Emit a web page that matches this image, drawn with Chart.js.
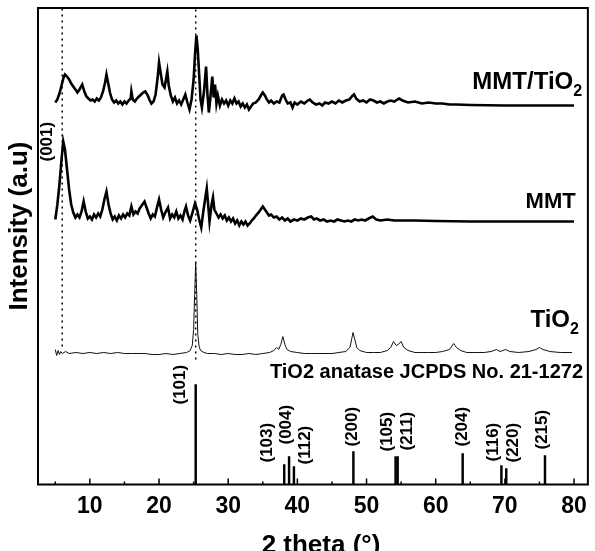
<!DOCTYPE html>
<html>
<head>
<meta charset="utf-8">
<script src="https://cdn.jsdelivr.net/npm/chart.js@4.4.0/dist/chart.umd.min.js"></script>
<style>
  html, body { margin: 0; padding: 0; background: #fff; }
  #wrap { width: 595px; height: 551px; }
</style>
</head>
<body>
<div id="wrap"><canvas id="xrdChart" width="595" height="551"></canvas></div>
<script>
// XRD patterns, stacked (intensity in a.u. incl. vertical offset of each trace)
var mmtTiO2Theta = [5.0,5.3,5.6,5.9,6.2,6.4,6.7,7.0,7.3,7.6,7.9,8.2,8.5,8.9,9.2,9.5,9.8,10.1,10.4,10.7,11.0,11.3,11.6,11.9,12.2,12.4,12.6,12.9,13.2,13.5,13.8,14.1,14.4,14.7,15.0,15.3,15.6,15.9,16.0,16.2,16.5,16.8,17.1,17.4,17.7,18.0,18.3,18.6,18.9,19.2,19.5,19.8,20.0,20.2,20.5,20.8,21.0,21.2,21.4,21.7,22.0,22.3,22.6,22.9,23.2,23.5,23.8,24.1,24.4,24.7,25.0,25.2,25.4,25.6,25.8,26.0,26.2,26.5,26.8,27.0,27.2,27.4,27.7,27.9,28.1,28.3,28.5,28.8,29.1,29.4,29.7,30.0,30.3,30.6,30.9,31.2,31.5,31.8,32.1,32.4,32.7,33.0,33.3,33.6,34.0,34.4,34.8,35.0,35.3,35.6,35.9,36.2,36.6,37.0,37.4,37.8,38.0,38.3,38.6,39.0,39.3,39.6,40.0,40.5,41.0,41.5,41.8,42.2,42.7,43.2,43.6,44.0,44.5,45.0,45.5,46.0,46.5,47.0,47.5,48.0,48.2,48.5,49.0,49.5,50.0,50.5,51.0,51.5,52.0,52.5,53.0,53.5,54.0,54.7,55.2,56.0,57.0,58.0,59.0,60.0,61.0,62.0,63.0,65.0,70.0,75.0,80.0];
var mmtTiO2Int = [382,385,391,399,407,410,408,405,401,398,395,392,395,400,393,388,386,384,385,383,386,384,387,393,402,410,403,392,385,382,384,381,383,380,383,381,384,386,393,385,383,386,388,390,392,393,390,385,381,383,390,407,422,413,400,397,405,413,399,389,383,387,381,384,380,385,390,382,375,385,405,430,449,435,410,385,377,393,418,390,372,385,408,387,400,381,389,379,385,381,384,379,384,381,386,381,383,378,381,377,380,375,378,381,382,385,390,392,389,385,382,384,381,383,382,389,390,385,381,382,377,382,380,383,381,384,385,382,380,381,379,382,381,383,381,384,382,384,385,389,390,386,383,384,382,385,384,382,383,381,383,384,383,386,384,382,383,381,382,381,381,380,380,379.5,379,379,379];

var mmtTheta = [5.0,5.3,5.6,5.9,6.15,6.4,6.7,7.0,7.3,7.6,7.9,8.2,8.5,8.8,9.1,9.4,9.7,10.0,10.3,10.6,10.9,11.2,11.5,11.8,12.1,12.4,12.7,13.0,13.3,13.6,13.9,14.2,14.5,14.8,15.1,15.4,15.7,16.0,16.3,16.6,16.9,17.2,17.5,17.9,18.2,18.5,18.8,19.1,19.4,19.7,20.0,20.3,20.6,20.9,21.3,21.6,21.9,22.2,22.5,22.8,23.1,23.4,23.7,23.9,24.2,24.5,24.8,25.2,25.5,25.8,26.1,26.4,26.7,26.9,27.1,27.3,27.6,27.8,28.0,28.3,28.6,28.9,29.2,29.5,29.8,30.1,30.4,30.7,31.0,31.3,31.6,31.9,32.2,32.5,32.8,33.1,33.4,33.7,34.0,34.4,34.7,35.0,35.3,35.6,35.9,36.2,36.6,37.0,37.4,37.8,38.2,38.6,39.0,39.5,40.0,40.5,41.0,41.5,42.0,42.4,42.8,43.3,43.8,44.3,44.8,45.3,45.8,46.3,46.8,47.3,47.8,48.3,48.8,49.3,49.8,50.3,50.9,51.4,52.0,53.0,54.0,55.0,57.0,60.0,65.0,70.0,75.0,80.0];
var mmtInt = [265,280,300,325,343,335,315,295,280,272,267,270,267,273,283,273,266,268,265,270,267,271,268,275,285,293,280,271,265,268,264,269,266,270,267,271,269,278,270,273,271,276,279,283,277,271,266,270,268,277,285,275,267,272,277,266,270,267,273,266,269,265,274,278,269,264,271,281,275,265,257,273,287,296,280,263,280,287,275,271,267,270,266,269,264,267,263,266,261,264,259,263,260,263,259,261,264,266,269,272,275,278,275,272,269,270,267,268,265,267,264,266,263,265,264,266,265,267,268,265,266,264,265,263,264,263,265,264,263,264,263,265,264,265,264,266,268,265,264,265,264,264,264,263.5,263,263,263,263];

var tio2Theta = [5.0,5.2,5.4,5.6,5.8,6.0,6.5,7.0,8.0,9.0,10.0,11.0,12.0,13.0,14.0,15.0,16.0,17.0,18.0,19.0,20.0,21.0,22.0,23.0,24.0,24.5,24.8,25.0,25.15,25.3,25.45,25.6,25.8,26.0,26.5,27.0,28.0,29.0,30.0,31.0,32.0,33.0,34.0,35.0,36.0,36.6,37.0,37.3,37.6,37.9,38.2,38.5,39.0,40.0,41.0,42.0,43.0,44.0,45.0,46.0,47.0,47.6,47.9,48.05,48.3,48.6,49.0,50.0,51.0,52.0,53.0,53.5,53.9,54.3,54.6,55.0,55.4,56.0,57.0,58.0,59.0,60.0,61.0,62.0,62.6,63.0,63.6,64.5,66.0,67.0,68.0,68.8,69.3,70.1,70.7,72.0,73.5,74.5,75.0,75.5,76.5,78.0,79.7];
var tio2Int = [135,129,134,130,133,131,133,131,132,131,132,131,132,131,132,131,131,131,131,130,130,131,130,131,132,134,139,155,190,222,190,150,138,134,132,131,131,130,131,130,130,131,130,131,132,134,137,135,140,148,140,135,133,132,131,131,131,131,131,132,133,137,147,152,145,137,134,132,132,132,134,137,143,139,140,143,137,134,132,132,132,132,133,135,141,137,134,132,132,132,133,135,133,135,133,132,133,135,137,135,133,132,132];

// TiO2 anatase JCPDS 21-1272 reference sticks
var refTheta = [25.3, 38.1, 38.8, 39.5, 48.1, 54.2, 54.5, 63.9, 69.5, 70.2, 75.8];
var refInt = [100, 20, 28, 18, 33, 28, 28, 31, 19, 16, 29];
var refHkl = ['(101)', '(103)', '(004)', '(112)', '(200)', '(105)', '(211)', '(204)', '(116)', '(220)', '(215)'];

// dotted guide lines: (001) of MMT and (101) of anatase
var guideTheta = [6.0, 25.3];
var guideLow = [138, 125];
var guideHigh = 476.5;

var xTicks = [10, 20, 30, 40, 50, 60, 70, 80];
var seriesNames = [['MMT/TiO', '2'], ['MMT', ''], ['TiO', '2']];

var FONT = '"Liberation Sans", Arial, sans-serif';

function pts(xs, ys) {
    return xs.map(function (x, i) { return { x: x, y: ys[i] }; });
}

function guideData(i) {
    return [{ x: guideTheta[i], y: guideLow[i] }, { x: guideTheta[i], y: guideHigh }];
}

// label anchors (2 theta / a.u.) picked to sit where the figure puts them
var hklAnchor = [[23.1, 80], [35.6, 22], [38.4, 40], [41.2, 20], [47.95, 38], [53.0, 33], [55.9, 34], [63.9, 38], [68.4, 23], [71.2, 22], [75.4, 35]];
var nameAnchor = [[65.3, 396, 24], [73.0, 277, 22], [73.7, 158, 24]];

function drawSub(ctx, main, sub, x, y, size) {
    ctx.font = 'bold ' + size + 'px ' + FONT;
    ctx.textAlign = 'left';
    ctx.textBaseline = 'alphabetic';
    ctx.fillText(main, x, y);
    if (sub) {
        var w = ctx.measureText(main).width;
        ctx.font = 'bold ' + Math.round(size * 0.65) + 'px ' + FONT;
        ctx.fillText(sub, x + w, y + size * 0.32);
    }
}

function vText(ctx, txt, x, y, font) {
    ctx.save();
    ctx.translate(x, y);
    ctx.rotate(-Math.PI / 2);
    ctx.font = font;
    ctx.textAlign = 'left';
    ctx.textBaseline = 'middle';
    ctx.fillText(txt, 0, 0);
    ctx.restore();
}

var decor = {
    id: 'decor',
    afterDraw: function (chart) {
        var ctx = chart.ctx, a = chart.chartArea;
        var xs = chart.scales.x, ys = chart.scales.y;
        ctx.save();
        ctx.fillStyle = '#000';
        ctx.strokeStyle = '#000';

        // frame
        ctx.lineWidth = 2;
        ctx.strokeRect(a.left, a.top, a.right - a.left, a.bottom - a.top);

        // inward ticks on the bottom axis
        ctx.lineWidth = 1.5;
        for (var v = 5; v <= 80; v += 5) {
            var px = xs.getPixelForValue(v);
            var len = v % 10 === 0 ? 6 : 3;
            ctx.beginPath();
            ctx.moveTo(px, a.bottom);
            ctx.lineTo(px, a.bottom - len);
            ctx.stroke();
        }

        // trace names
        for (var i = 0; i < seriesNames.length; i++) {
            var n = nameAnchor[i];
            drawSub(ctx, seriesNames[i][0], seriesNames[i][1], xs.getPixelForValue(n[0]), ys.getPixelForValue(n[1]), n[2]);
        }

        // JCPDS caption
        ctx.font = 'bold 20px ' + FONT;
        ctx.textAlign = 'right';
        ctx.textBaseline = 'alphabetic';
        ctx.fillText('TiO2 anatase JCPDS No. 21-1272', xs.getPixelForValue(81.3), ys.getPixelForValue(107));

        // hkl labels
        var hf = 'bold 17px ' + FONT;
        for (var j = 0; j < refHkl.length; j++) {
            vText(ctx, refHkl[j], xs.getPixelForValue(hklAnchor[j][0]), ys.getPixelForValue(hklAnchor[j][1]), hf);
        }
        vText(ctx, '(001)', xs.getPixelForValue(3.8), ys.getPixelForValue(323), hf);

        // axis titles
        ctx.font = 'bold 26px ' + FONT;
        ctx.save();
        ctx.translate(20, 226);
        ctx.rotate(-Math.PI / 2);
        ctx.textAlign = 'center';
        ctx.textBaseline = 'middle';
        ctx.fillText('Intensity (a.u)', 0, 0);
        ctx.restore();

        ctx.font = 'bold 26px ' + FONT;
        ctx.textAlign = 'center';
        ctx.textBaseline = 'alphabetic';
        ctx.fillText('2 theta (\u00b0)', 321, 553);
        ctx.restore();
    }
};

var ctx = document.getElementById('xrdChart').getContext('2d');
var xrdChart = new Chart(ctx, {
    type: 'line',
    data: {
        datasets: [{
            label: 'MMT/TiO2',
            data: pts(mmtTiO2Theta, mmtTiO2Int),
            borderColor: '#000',
            borderWidth: 2.6,
            pointRadius: 0
        }, {
            label: 'MMT',
            data: pts(mmtTheta, mmtInt),
            borderColor: '#000',
            borderWidth: 2.6,
            pointRadius: 0
        }, {
            label: 'TiO2',
            data: pts(tio2Theta, tio2Int),
            borderColor: '#111',
            borderWidth: 1,
            pointRadius: 0
        }, {
            label: 'guide 001',
            data: guideData(0),
            borderColor: '#000',
            borderWidth: 1.5,
            borderDash: [2, 4],
            pointRadius: 0
        }, {
            label: 'guide 101',
            data: guideData(1),
            borderColor: '#000',
            borderWidth: 1.5,
            borderDash: [2, 4],
            pointRadius: 0
        }, {
            type: 'bar',
            label: 'JCPDS 21-1272',
            data: pts(refTheta, refInt),
            backgroundColor: '#000',
            barThickness: 1.8
        }]
    },
    options: {
        responsive: false,
        animation: false,
        devicePixelRatio: 1,
        layout: { padding: { left: 38, right: 7, top: 8, bottom: 0 } },
        plugins: {
            legend: { display: false },
            tooltip: { enabled: false }
        },
        scales: {
            x: {
                type: 'linear',
                min: 2.5,
                max: 82,
                offset: false,
                grid: { display: false, drawTicks: false },
                border: { display: false },
                afterBuildTicks: function (scale) {
                    scale.ticks = xTicks.map(function (v) { return { value: v }; });
                },
                afterFit: function (scale) { scale.height = 66.5; },
                ticks: {
                    color: '#000',
                    padding: 8,
                    maxRotation: 0,
                    font: { family: FONT, size: 23, weight: 'bold' }
                }
            },
            y: {
                display: false,
                min: 0,
                max: 476.5
            }
        }
    },
    plugins: [decor]
});
</script>
</body>
</html>
